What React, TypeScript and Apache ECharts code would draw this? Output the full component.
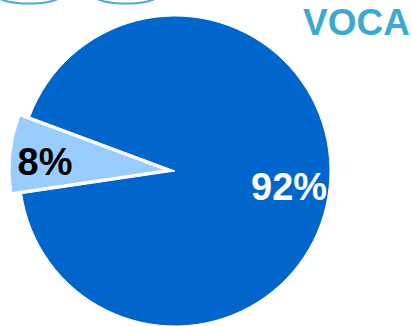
import React, { useEffect, useRef } from "react";
import * as echarts from "echarts";

const categories = ["Minor", "Major"];
const values = [8, 92];
const labels = ["8%", "92%"];
const sliceColors = ["#99CCFF", "#0066CC"];
const labelColors = ["#000000", "#FFFFFF"];
const titleText = "VOCA";

export default function App() {
  const ref = useRef<HTMLDivElement>(null);
  useEffect(() => {
    if (!ref.current) return;
    const chart = echarts.init(ref.current, undefined, { renderer: "svg" });
    const labelShift: Record<number, [number, number]> = { 0: [-40, 0], 1: [34, 8] };
    chart.setOption({
      animation: false,
      backgroundColor: "#FFFFFF",
      graphic: [
        {
          type: "ellipse",
          shape: { cx: 29, cy: -4.5, rx: 32, ry: 8 },
          style: { fill: "none", stroke: "#4AAAD0", lineWidth: 2 },
        },
        {
          type: "ellipse",
          shape: { cx: 126, cy: -4.5, rx: 32, ry: 8 },
          style: { fill: "none", stroke: "#4AAAD0", lineWidth: 2 },
        },
        {
          type: "text",
          x: 303,
          y: 22,
          style: {
            text: titleText,
            fill: "#3DA9CF",
            font: "bold 37px 'Liberation Sans', Arial, sans-serif",
            textAlign: "left",
            textVerticalAlign: "middle",
          },
        },
      ],
      series: [
        {
          type: "pie",
          center: [175, 171],
          radius: [0, 155],
          startAngle: 188.4,
          clockwise: true,
          selectedMode: "single",
          selectedOffset: 10,
          avoidLabelOverlap: false,
          itemStyle: { borderColor: "#FFFFFF", borderWidth: 1 },
          emphasis: { disabled: true },
          label: {
            show: true,
            position: "inside",
            fontFamily: "'Liberation Sans', Arial, sans-serif",
            fontWeight: "bold",
            fontSize: 38,
            formatter: (p: any) => labels[p.dataIndex],
          },
          labelLine: { show: false },
          labelLayout: (p: any) => {
            const s = labelShift[p.dataIndex] || [0, 0];
            return { dx: s[0], dy: s[1] };
          },
          data: categories.map((c, i) => ({
            name: c,
            value: values[i],
            selected: i === 0,
            itemStyle: { color: sliceColors[i] },
            label: { color: labelColors[i] },
          })),
        },
      ],
    });
    return () => chart.dispose();
  }, []);
  return (
    <div
      ref={ref}
      style={{ position: "fixed", left: 0, top: 0, width: 412, height: 326 }}
    />
  );
}
